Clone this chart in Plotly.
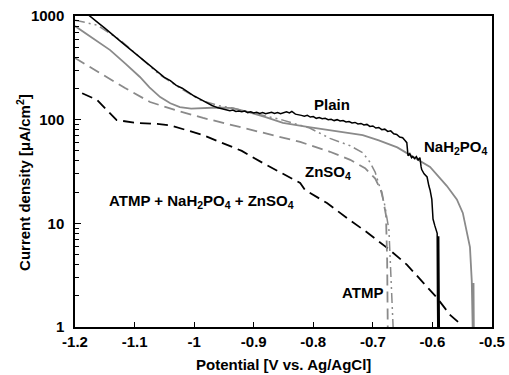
import plotly.graph_objects as go

# ---------------- data ----------------
plain_v = [-1.178, -1.17, -1.16, -1.15, -1.14, -1.13, -1.12, -1.11, -1.10, -1.09,
           -1.08, -1.07, -1.06, -1.05, -1.04, -1.03, -1.02, -1.01, -1.00, -0.99,
           -0.98, -0.97, -0.96, -0.95, -0.945, -0.94, -0.935, -0.93, -0.925, -0.92,
           -0.915, -0.91, -0.905, -0.90, -0.895, -0.89, -0.885, -0.88, -0.875, -0.87,
           -0.865, -0.86, -0.855, -0.85, -0.845, -0.84, -0.836, -0.83, -0.825, -0.82,
           -0.815, -0.81, -0.805, -0.80, -0.795, -0.79, -0.785, -0.78, -0.775, -0.77,
           -0.765, -0.76, -0.755, -0.75, -0.745, -0.74, -0.735, -0.73, -0.725, -0.72,
           -0.715, -0.71, -0.705, -0.70, -0.695, -0.69, -0.685, -0.68, -0.675, -0.67,
           -0.665, -0.66, -0.655, -0.65, -0.646, -0.643, -0.641, -0.638, -0.635, -0.633,
           -0.63, -0.627, -0.624, -0.621, -0.619, -0.618, -0.614, -0.609, -0.606, -0.604,
           -0.601, -0.599, -0.596, -0.594, -0.592, -0.5915, -0.591, -0.5895, -0.589, -0.5885]
plain_i = [1030, 940, 850, 765, 690, 612, 548, 492, 440, 398,
           355, 316, 284, 256, 238, 214, 201, 183, 169, 158,
           146, 137, 130, 127, 124, 122, 124, 120, 121, 119,
           121, 117, 119, 116, 118, 115, 117, 114, 116, 118,
           115, 117, 114, 116, 119, 116, 120, 113, 112, 110,
           108, 110, 106, 107, 103, 105, 102, 103, 100, 101,
           98, 100, 97, 98, 95, 96, 93, 94, 91, 92,
           89, 90, 86, 87, 83, 84, 80, 81, 77, 78,
           73, 72, 68, 67, 63, 60, 45, 47, 43, 44,
           42, 44, 41, 43, 35, 33, 30, 28, 23, 21,
           17, 11, 9.5, 8.6, 8.0, 2.0, 1.0, 7.5, 1.0, 1.0]

nah2po4_v = [-1.2, -1.175, -1.141, -1.115, -1.091, -1.075, -1.057, -1.04, -1.024, -1.005,
             -0.99, -0.96, -0.935, -0.91, -0.88, -0.851, -0.81, -0.772, -0.717, -0.69,
             -0.659, -0.633, -0.604, -0.576, -0.559, -0.549, -0.543, -0.537, -0.534, -0.5325,
             -0.532, -0.531, -0.5305]
nah2po4_i = [800, 640, 469, 345, 258, 205, 165, 144, 132, 128,
             129, 131, 129, 119, 106, 93, 85, 79, 71, 63,
             54, 44, 35, 23, 17, 12.6, 8.5, 5.9, 2.8, 1.0,
             2.6, 2.6, 1.0]

znso4_v = [-1.2, -1.158, -1.116, -1.074, -1.032, -0.985, -0.931, -0.873, -0.822, -0.772,
           -0.738, -0.713, -0.696, -0.685, -0.678, -0.676, -0.675]
znso4_i = [393, 281, 202, 148, 124, 104, 87, 71, 61, 49,
           41, 34, 27, 20, 12, 4.4, 1.0]

atmp_v = [-1.2, -1.163, -1.124, -1.091, -1.057, -1.02, -0.99, -0.96, -0.935, -0.906,
          -0.851, -0.806, -0.772, -0.738, -0.717, -0.705, -0.696, -0.688, -0.68, -0.673,
          -0.67, -0.666]
atmp_i = [912, 817, 586, 402, 269, 196, 155, 137, 129, 118,
          99, 83, 66, 56, 48, 39, 31, 22, 15, 8.6,
          3.5, 1.0]

mix_v = [-1.188, -1.163, -1.13, -1.096, -1.062, -1.04, -1.012, -0.985, -0.957, -0.92,
         -0.884, -0.822, -0.814, -0.777, -0.743, -0.71, -0.676, -0.643, -0.616, -0.592,
         -0.57, -0.557]
mix_i = [180, 155, 99, 93, 91, 88, 79, 71, 61, 50,
         38, 24.5, 21, 15.7, 11.2, 8.2, 5.8, 4.0, 2.7, 1.9,
         1.3, 1.12]

x_ticks = [-1.2, -1.1, -1.0, -0.9, -0.8, -0.7, -0.6, -0.5]
x_tick_text = ["-1.2", "-1.1", "-1", "-0.9", "-0.8", "-0.7", "-0.6", "-0.5"]
y_ticks = [1, 10, 100, 1000]
y_tick_text = ["1", "10", "100", "1000"]

BLACK = "#000000"
GRAY = "#8a8a8a"
FONT = "Liberation Sans, Arial, sans-serif"
FS = 15

fig = go.Figure()
fig.add_trace(go.Scatter(x=mix_v, y=mix_i, mode="lines",
                         line=dict(color=BLACK, width=1.8, dash="11px,6px")))
fig.add_trace(go.Scatter(x=znso4_v, y=znso4_i, mode="lines",
                         line=dict(color=GRAY, width=1.8, dash="11px,6px")))
fig.add_trace(go.Scatter(x=atmp_v, y=atmp_i, mode="lines",
                         line=dict(color=GRAY, width=1.5, dash="10px,4px,2px,4px,2px,4px")))
fig.add_trace(go.Scatter(x=nah2po4_v, y=nah2po4_i, mode="lines",
                         line=dict(color=GRAY, width=1.8)))
fig.add_trace(go.Scatter(x=plain_v, y=plain_i, mode="lines",
                         line=dict(color=BLACK, width=1.5)))

lab_font = dict(family=FONT, size=FS, color=BLACK, weight="bold")
labels = [
    ("Plain", -0.769, 2.15),
    ("NaH<sub>2</sub>PO<sub>4</sub>", -0.560, 1.736),
    ("ZnSO<sub>4</sub>", -0.775, 1.495),
    ("ATMP + NaH<sub>2</sub>PO<sub>4</sub> + ZnSO<sub>4</sub>", -0.988, 1.215),
    ("ATMP", -0.717, 0.3375),
]
for txt, xv, yv in labels:
    fig.add_annotation(x=xv, y=yv, text=txt, showarrow=False, font=lab_font,
                       xanchor="center", yanchor="middle")

# axis titles placed as paper-anchored annotations
fig.add_annotation(x=0.499, y=-0.122, xref="paper", yref="paper",
                   text="Potential [V vs. Ag/AgCl]", showarrow=False,
                   font=lab_font, xanchor="center", yanchor="middle")
fig.add_annotation(x=-0.125, y=0.466, xref="paper", yref="paper",
                   text="Current density [μA/cm<sup>2</sup>]", showarrow=False,
                   textangle=-90, font=lab_font, xanchor="center", yanchor="middle")

fig.update_layout(
    width=509, height=375,
    margin=dict(l=75, r=17, t=16, b=48, autoexpand=False),
    paper_bgcolor="white", plot_bgcolor="white",
    showlegend=False,
    font=dict(family=FONT, size=FS, color=BLACK),
)
fig.update_xaxes(
    range=[-1.2, -0.5], tickvals=x_ticks, ticktext=x_tick_text,
    ticks="inside", ticklen=5, tickwidth=1, tickcolor=BLACK,
    showline=True, linecolor=BLACK, linewidth=1.5, mirror=True,
    showgrid=False, zeroline=False, automargin=False,
    tickfont=dict(family=FONT, size=FS, color=BLACK, weight="bold"),
)
fig.update_yaxes(
    type="log", range=[0, 3], tickvals=y_ticks, ticktext=y_tick_text,
    ticks="inside", ticklen=6, tickwidth=1, tickcolor=BLACK,
    minor=dict(ticks="inside", ticklen=4, tickcolor=BLACK, dtick="D1", showgrid=False),
    showline=True, linecolor=BLACK, linewidth=1.5, mirror=True,
    showgrid=False, zeroline=False, automargin=False,
    ticklabelstandoff=6,
    tickfont=dict(family=FONT, size=FS, color=BLACK, weight="bold"),
)

fig.write_html("out.html")
